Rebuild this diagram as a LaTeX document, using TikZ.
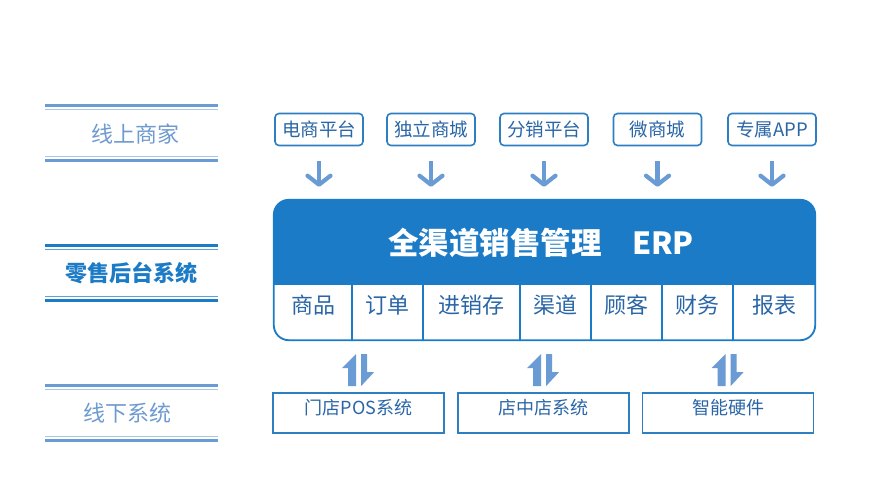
\documentclass[tikz,border=0pt]{standalone}
\usepackage{fontspec}
\setmainfont{Noto Sans CJK SC}
\usetikzlibrary{arrows.meta, calc, positioning}

\definecolor{erpblue}{HTML}{1B7BC6}
\definecolor{erplight}{HTML}{5AA2DE}
\definecolor{boxblue}{HTML}{2E7EC2}
\definecolor{textblue}{HTML}{2A66A6}
\definecolor{softblue}{HTML}{6B9BD5}
\definecolor{paleblue}{HTML}{A8C6EA}
\definecolor{labelblue}{HTML}{6E9AD0}

\tikzset{
    band/.style={inner sep=0pt, text=labelblue, font=\fontsize{22}{22}\selectfont},
    channel/.style={draw=boxblue, line width=1.6pt, rounded corners=4pt,
        minimum width=88pt, minimum height=32pt, inner sep=0pt,
        text=textblue, font=\fontsize{18.5}{18.5}\selectfont},
    flowdown/.style={softblue, line width=4.2pt,
        -{Straight Barb[length=9pt, width=23pt, round]},
        shorten <=15pt, shorten >=13pt},
    module/.style={text=textblue, font=\fontsize{22}{22}\selectfont},
    store/.style={draw=boxblue, line width=1.6pt, minimum width=171pt,
        minimum height=40pt, inner sep=0pt, text height=14pt, text depth=12pt,
        text=textblue, font=\fontsize{18}{18}\selectfont},
    updown/.pic={
        \fill[softblue] (-2.5,32) -- (-2.5,0) -- (-16.5,14) -- (-10.5,14) -- (-10.5,32) -- cycle;
        \fill[softblue] (2.5,0) -- (8.5,0) -- (8.5,18) -- (15.5,18) -- (2.5,32) -- cycle;
    }
}

\begin{document}
\begin{tikzpicture}[x=1pt, y=-1pt]
    \useasboundingbox[fill=white] (0,0) rectangle (886,500);

    % left labels
    \node[band] (online) at (135,134) {线上商家};
    \node[band, text=erpblue, font=\bfseries\fontsize{22}{22}\selectfont] (backend) at (131.5,273) {零售后台系统};
    \node[band] (offline) at (127.5,413) {线下系统};
    \foreach \n/\y/\dk/\lt in {online/133/softblue/paleblue, backend/273/erpblue/erplight, offline/413/softblue/paleblue}{
        \coordinate (\n top) at (45,\y-27.5);
        \coordinate (\n bot) at (45,\y+27.5);
        \draw[line width=2.6pt, \dk] (\n top) -- ++(173,0);
        \draw[line width=1.4pt, \lt] ($(\n top)+(0,4)$) -- ++(173,0);
        \draw[line width=1.4pt, \lt] ($(\n bot)+(0,-4)$) -- ++(173,0);
        \draw[line width=2.6pt, \dk] (\n bot) -- ++(173,0);
    }

    % erp block
    \node[minimum width=541pt, minimum height=140pt, inner sep=0pt] (erp) at (544.5,270) {};
    \begin{scope}
        \clip[rounded corners=15pt] (erp.north west) rectangle (erp.south east);
        \fill[erpblue] (erp.north west) rectangle (erp.east |- 0,285);
    \end{scope}
    \draw[erpblue, line width=1.8pt, rounded corners=15pt] (erp.north west) rectangle (erp.south east);
    \node[text=white, font=\bfseries\fontsize{30.5}{30.5}\selectfont] (title) at (541,243) {全渠道销售管理　ERP};

    \foreach \a/\b/\t/\n in {274/352/商品/sp, 352/423/订单/dd, 423/520/进销存/jxc, 520/591/渠道/qd,
        591/662/顾客/gk, 662/733/财务/cw, 733/815/报表/bb}{
        \node[module] (\n) at ({(\a+\b)/2},305) {\t};
    }
    \foreach \x in {352,423,520,591,662,733}
        \draw[erpblue, line width=1.2pt] (\x,285) -- (\x,340);

    % online channels
    \foreach \n/\x/\t in {ds/319/电商平台, dl/431/独立商城, fx/544/分销平台, wx/657.5/微商城, app/772/专属APP}{
        \node[channel] (\n) at (\x,129.5) {\t};
        \draw[flowdown] (\n.south) -- (\n.south |- erp.north);
    }

    % offline systems
    \foreach \n/\x/\t in {pos/358.5/门店POS系统, shop/543.5/店中店系统, hw/728/智能硬件}{
        \node[store] (\n) at (\x,413) {\t};
        \pic at ($(\n.north |- erp.south)+(0,14)$) {updown};
    }
\end{tikzpicture}
\end{document}
